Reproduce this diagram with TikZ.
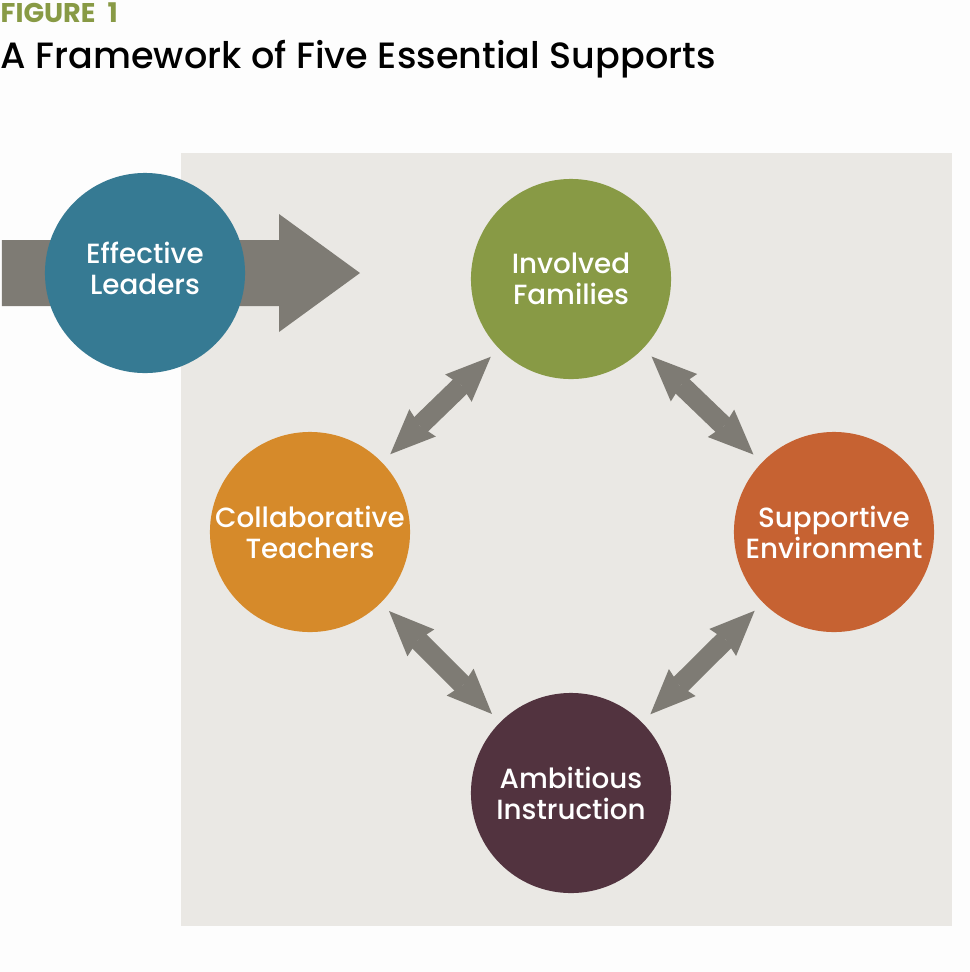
\documentclass[tikz,border=0pt]{standalone}
\usepackage{fontspec}
\setmainfont{Poppins}
\newfontfamily\medium{Poppins Medium}
\usetikzlibrary{arrows.meta}

\definecolor{pagebg}{HTML}{FDFDFD}
\definecolor{panel}{HTML}{EAE8E4}
\definecolor{arrowgray}{HTML}{7E7B74}
\definecolor{leadblue}{HTML}{367A93}
\definecolor{famgreen}{HTML}{889A45}
\definecolor{teachorange}{HTML}{D68A2A}
\definecolor{envorange}{HTML}{C66232}
\definecolor{instrplum}{HTML}{52333F}

\tikzset{
  support/.style={circle, minimum size=2cm, inner sep=0pt, text=white, align=center,
    font=\medium\fontsize{7.9}{8.8}\selectfont},
  duotip/.tip={Stealth[length=0.45cm, width=0.38cm, inset=0.04cm, line width=0pt]},
  link/.style={draw=arrowgray, line width=0.2cm, shorten <=0.11cm, shorten >=0.11cm, duotip-duotip},
}

\begin{document}
\begin{tikzpicture}[x=0.01cm, y=-0.01cm]

\useasboundingbox[fill=pagebg] (0,0) rectangle (970,972);

\coordinate (L) at (145,273);
\coordinate (F) at (571,279);
\coordinate (T) at (310,532);
\coordinate (E) at (834,532);
\coordinate (I) at (571,793);

\fill[panel] (181,153) rectangle (952,926);

\node[anchor=base west, inner sep=0pt, text=famgreen, font=\bfseries\fontsize{7.7}{9}\selectfont] (figno) at (0,22) {FIGURE\hspace{0.12cm}1};
\node[anchor=base west, inner sep=0pt, font=\medium\fontsize{10.4}{12}\selectfont] (title) at (0,68) {A Framework of Five Essential Supports};

\fill[arrowgray] (2,240) -- (279,240) -- (279,214) -- (360,273) -- (279,332) -- (279,306) -- (2,306) -- cycle;

\node[support, fill=leadblue] (lead) at (L) {};
\node[support] (leadtext) at ([yshift=1.4pt]lead.center) {Effective\\Leaders};
\node[support, fill=famgreen] (fam) at (F) {Involved\\Families};
\node[support, fill=teachorange] (teach) at (T) {Collaborative\\Teachers};
\node[support, fill=envorange] (env) at (E) {Supportive\\Environment};
\node[support, fill=instrplum] (instr) at (I) {Ambitious\\Instruction};

\draw[link] (teach) -- (fam);
\draw[link] (fam) -- (env);
\draw[link] (teach) -- (instr);
\draw[link] (instr) -- (env);

\end{tikzpicture}
\end{document}
